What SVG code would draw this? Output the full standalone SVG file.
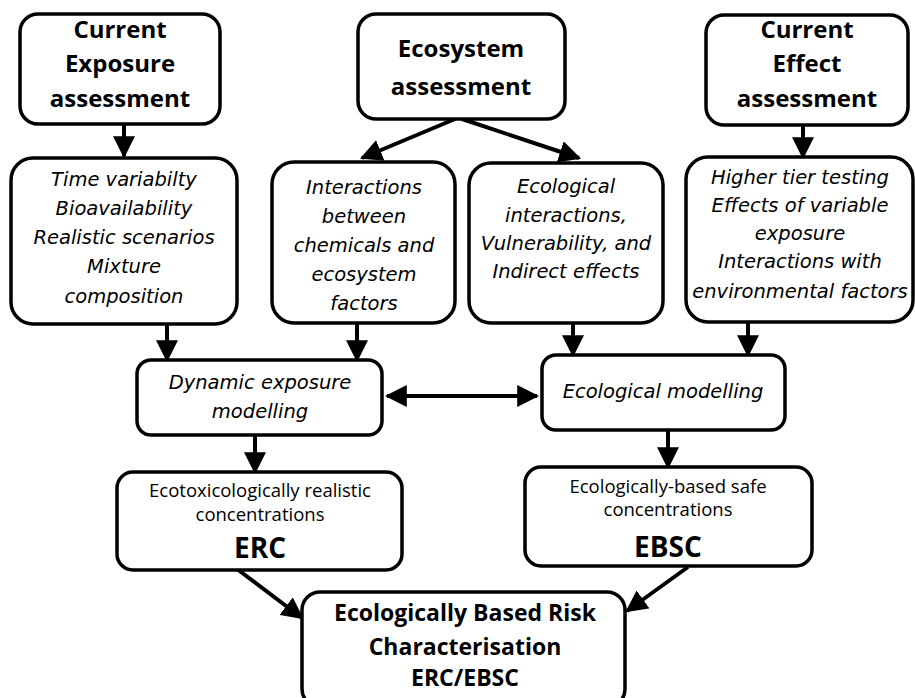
<svg xmlns="http://www.w3.org/2000/svg" width="915" height="698" viewBox="0 0 915 698">
<defs>
<marker id="ah" markerUnits="userSpaceOnUse" markerWidth="22" markerHeight="22" viewBox="0 0 20 20" refX="18" refY="10" orient="auto">
<path d="M0,0 L20,10 L0,20 Z" fill="#000"/>
</marker>
<marker id="ahs" markerUnits="userSpaceOnUse" markerWidth="22" markerHeight="22" viewBox="0 0 20 20" refX="2" refY="10" orient="auto">
<path d="M20,0 L0,10 L20,20 Z" fill="#000"/>
</marker>
</defs>
<style>
.n rect{fill:#fff;stroke:#000;stroke-width:3.5}
.c line{stroke:#000;stroke-width:4;fill:none}
text{text-anchor:middle;fill:#000}
.h{font-family:"Open Sans","Liberation Sans",sans-serif;font-weight:700;font-size:24px}
.i{font-family:"DejaVu Sans",sans-serif;font-style:italic;font-size:19.5px}
.r{font-family:"Open Sans","Liberation Sans",sans-serif;font-size:18.5px}
.b{font-family:"Open Sans","Liberation Sans",sans-serif;font-weight:700;font-size:28px}
.f{font-family:"Open Sans","Liberation Sans",sans-serif;font-weight:700;font-size:23px}
</style>
<rect width="915" height="698" style="fill:#fff;stroke:none"/>
<g class="c">
<line x1="124" y1="125" x2="124" y2="156" marker-end="url(#ah)"/>
<line x1="455" y1="119" x2="362" y2="158" marker-end="url(#ah)"/>
<line x1="462" y1="119" x2="579" y2="158" marker-end="url(#ah)"/>
<line x1="803" y1="125" x2="803" y2="157" marker-end="url(#ah)"/>
<line x1="167" y1="325" x2="167" y2="360" marker-end="url(#ah)"/>
<line x1="357" y1="323" x2="357" y2="360" marker-end="url(#ah)"/>
<line x1="573" y1="323" x2="573" y2="355" marker-end="url(#ah)"/>
<line x1="748" y1="322" x2="748" y2="355" marker-end="url(#ah)"/>
<line x1="387" y1="396" x2="537" y2="396" marker-start="url(#ahs)" marker-end="url(#ah)"/>
<line x1="255" y1="435" x2="255" y2="472" marker-end="url(#ah)"/>
<line x1="668" y1="430" x2="668" y2="467" marker-end="url(#ah)"/>
<line x1="237" y1="569" x2="302" y2="618" marker-end="url(#ah)"/>
<line x1="688" y1="567" x2="627" y2="611" marker-end="url(#ah)"/>
</g>
<g id="n1" class="n">
<rect x="20" y="14" width="200" height="110" rx="18"/>
<text class="h" x="120" y="38">Current</text>
<text class="h" x="120" y="72">Exposure</text>
<text class="h" x="120" y="107">assessment</text>
</g>
<g id="n2" class="n">
<rect x="358" y="14" width="207" height="105" rx="18"/>
<text class="h" x="461" y="57">Ecosystem</text>
<text class="h" x="461" y="95">assessment</text>
</g>
<g id="n3" class="n">
<rect x="706" y="15" width="202" height="110" rx="18"/>
<text class="h" x="807" y="38">Current</text>
<text class="h" x="807" y="72">Effect</text>
<text class="h" x="807" y="107">assessment</text>
</g>
<g id="n4" class="n">
<rect x="11" y="158" width="226" height="166" rx="22"/>
<text class="i" x="124" y="186">Time variabilty</text>
<text class="i" x="124" y="215">Bioavailability</text>
<text class="i" x="124" y="244">Realistic scenarios</text>
<text class="i" x="124" y="273">Mixture</text>
<text class="i" x="124" y="303">composition</text>
</g>
<g id="n5" class="n">
<rect x="272" y="162" width="183" height="161" rx="22"/>
<text class="i" x="364" y="194">Interactions</text>
<text class="i" x="364" y="223">between</text>
<text class="i" x="364" y="252">chemicals and</text>
<text class="i" x="364" y="281">ecosystem</text>
<text class="i" x="364" y="310">factors</text>
</g>
<g id="n6" class="n">
<rect x="469" y="163" width="194" height="160" rx="22"/>
<text class="i" x="566" y="193">Ecological</text>
<text class="i" x="566" y="222">interactions,</text>
<text class="i" x="566" y="250">Vulnerability, and</text>
<text class="i" x="566" y="278">Indirect effects</text>
</g>
<g id="n7" class="n">
<rect x="686" y="157" width="227" height="165" rx="22"/>
<text class="i" x="800" y="184">Higher tier testing</text>
<text class="i" x="800" y="212">Effects of variable</text>
<text class="i" x="800" y="240">exposure</text>
<text class="i" x="800" y="268">Interactions with</text>
<text class="i" x="800" y="298">environmental factors</text>
</g>
<g id="n8" class="n">
<rect x="137" y="360" width="245" height="75" rx="14"/>
<text class="i" x="260" y="389">Dynamic exposure</text>
<text class="i" x="260" y="418">modelling</text>
</g>
<g id="n9" class="n">
<rect x="542" y="355" width="243" height="75" rx="14"/>
<text class="i" x="663" y="398">Ecological modelling</text>
</g>
<g id="n10" class="n">
<rect x="117" y="472" width="285" height="98" rx="16"/>
<text class="r" x="260" y="497">Ecotoxicologically realistic</text>
<text class="r" x="260" y="521">concentrations</text>
<text class="b" x="260" y="558">ERC</text>
</g>
<g id="n11" class="n">
<rect x="525" y="467" width="287" height="99" rx="16"/>
<text class="r" x="668" y="493">Ecologically-based safe</text>
<text class="r" x="668" y="516">concentrations</text>
<text class="b" x="668" y="557">EBSC</text>
</g>
<g id="n12" class="n">
<rect x="302" y="592" width="323" height="115" rx="18"/>
<text class="f" x="465" y="621">Ecologically Based Risk</text>
<text class="f" x="465" y="655">Characterisation</text>
<text class="f" x="465" y="686">ERC/EBSC</text>
</g>
</svg>
